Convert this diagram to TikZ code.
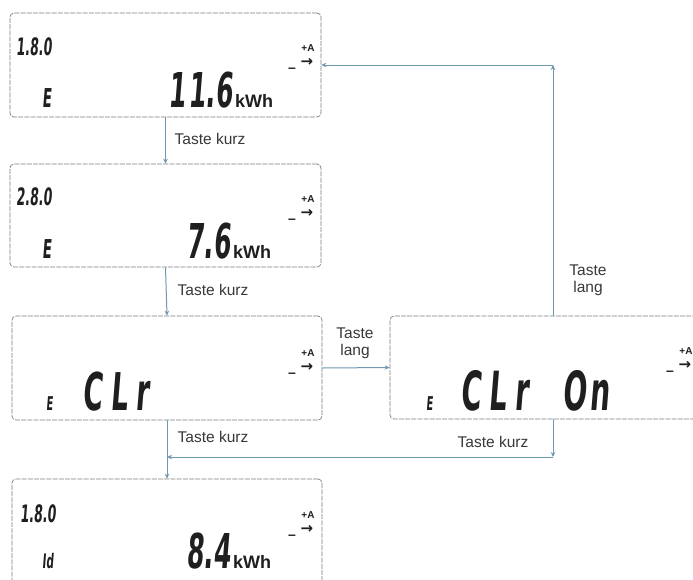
\documentclass[tikz,border=0pt]{standalone}
\usepackage{fontspec}
\setmainfont{Liberation Sans}
\newfontfamily\lcdfont[FakeStretch=0.52,FakeSlant=0.08]{DejaVu Sans}
\newfontfamily\symfont{DejaVu Sans}
\usetikzlibrary{arrows.meta}
\definecolor{linkblue}{RGB}{112,152,178}
\definecolor{frame}{RGB}{125,125,125}

\begin{document}
\begin{tikzpicture}[x=1pt,y=-1pt,
  flow/.style={-{Stealth[length=5pt,width=4.5pt]}, line width=1pt, draw=linkblue},
  display/.style={draw=frame, line width=.7pt, dash pattern=on 5pt off 1.2pt, rounded corners=4pt, inner sep=0pt},
  lbl/.style={align=center, text=black!78, font=\fontsize{15.5}{17}\selectfont},
  lcd/.style={inner sep=0pt, text=black!88, font={\lcdfont\bfseries\fontsize{#1}{#1}\selectfont}},
  unit/.style={inner sep=0pt, anchor=base west, text=black!88, font={\bfseries\fontsize{18}{18}\selectfont}},
  pol/.style={inner sep=0pt, text=black!88, font={\bfseries\fontsize{10}{10}\selectfont}},
  polarrow/.style={inner sep=0pt, text=black!88, font={\symfont\bfseries\fontsize{15}{15}\selectfont}}
]
  \useasboundingbox (0,0) rectangle (693,579);
  \clip (0,0) rectangle (693,579);
  \fill[white] (0,0) rectangle (693,579);

  % displays
  \node[display, minimum width=311pt, minimum height=104pt] (r180) at (165.5,65) {};
  \node[display, minimum width=311pt, minimum height=103pt] (r280) at (165.5,215.5) {};
  \node[display, minimum width=310pt, minimum height=104pt] (clr) at (167,368) {};
  \node[display, minimum width=330pt, minimum height=103pt] (clron) at (555,367.5) {};
  \node[display, minimum width=310pt, minimum height=121pt] (r180id) at (167,539.5) {};

  % display contents
  \node[lcd=24, anchor=base west] (obis1) at (16,55) {1.8.0};
  \node[lcd=26, anchor=base west] (reg1) at (42,107) {E};
  \node[lcd=48, anchor=base east] (val1) at (233,107) {1\kern3pt 1.6};
  \node[unit] (kwh1) at (235,107) {kWh};

  \node[lcd=24, anchor=base west] (obis2) at (16,205) {2.8.0};
  \node[lcd=26, anchor=base west] (reg2) at (42,258) {E};
  \node[lcd=48, anchor=base east] (val2) at (231,258) {7.6};
  \node[unit] (kwh2) at (233,258) {kWh};

  \node[lcd=19, anchor=base west] (reg3) at (46,410) {E};
  \node[lcd=52, anchor=base west] (clrtxt) at (82,410) {C\kern8pt L\kern8pt r};

  \node[lcd=19, anchor=base west] (reg4) at (426,410) {E};
  \node[lcd=54, anchor=base west] (clrtxt2) at (460,410) {C\kern8pt L\kern8pt r};
  \node[lcd=54, anchor=base west] (ontxt) at (562,410) {O\kern3pt n};

  \node[lcd=24, anchor=base west] (obis5) at (20,522) {1.8.0};
  \node[lcd=20, anchor=base west] (reg5) at (42,568) {Id};
  \node[lcd=48, anchor=base east] (val5) at (231,568) {8.4};
  \node[unit] (kwh5) at (233,568) {kWh};

  \foreach \px/\py/\n in {308/48/a, 308/199/b, 308/353/c, 686/351/d, 308/515/e} {
    \node[pol] (plus\n) at (\px,\py) {+A};
    \node[polarrow] (dir\n) at (\px-1,\py+14) {→};
    \node[pol, font={\bfseries\fontsize{14}{14}\selectfont}] (minus\n) at (\px-16,\py+22) {–};
  }

  % connectors
  \coordinate (upturn) at (553,65);
  \coordinate (downturn) at (553,457);
  \draw[flow] (r180.south) -- (r280.north);
  \draw[flow] (r280.south) -- (clr.north);
  \draw[flow] (clr.south) -- (r180id.north);
  \draw[flow] (clr.east) -- (clron.west);
  \draw[flow] (upturn |- clron.north) -- (upturn);
  \draw[flow] (upturn) -- (r180.east);
  \draw[flow] (downturn |- clron.south) -- (downturn);
  \draw[flow] (downturn) -- (downturn -| clr.south);

  \node[lbl] (short1) at (210,139) {Taste kurz};
  \node[lbl] (short2) at (213,290) {Taste kurz};
  \node[lbl] (short3) at (213,437) {Taste kurz};
  \node[lbl] (short4) at (493,442) {Taste kurz};
  \node[lbl] (long1) at (355,343) {Taste\\lang};
  \node[lbl] (long2) at (588,280) {Taste\\lang};
\end{tikzpicture}
\end{document}
